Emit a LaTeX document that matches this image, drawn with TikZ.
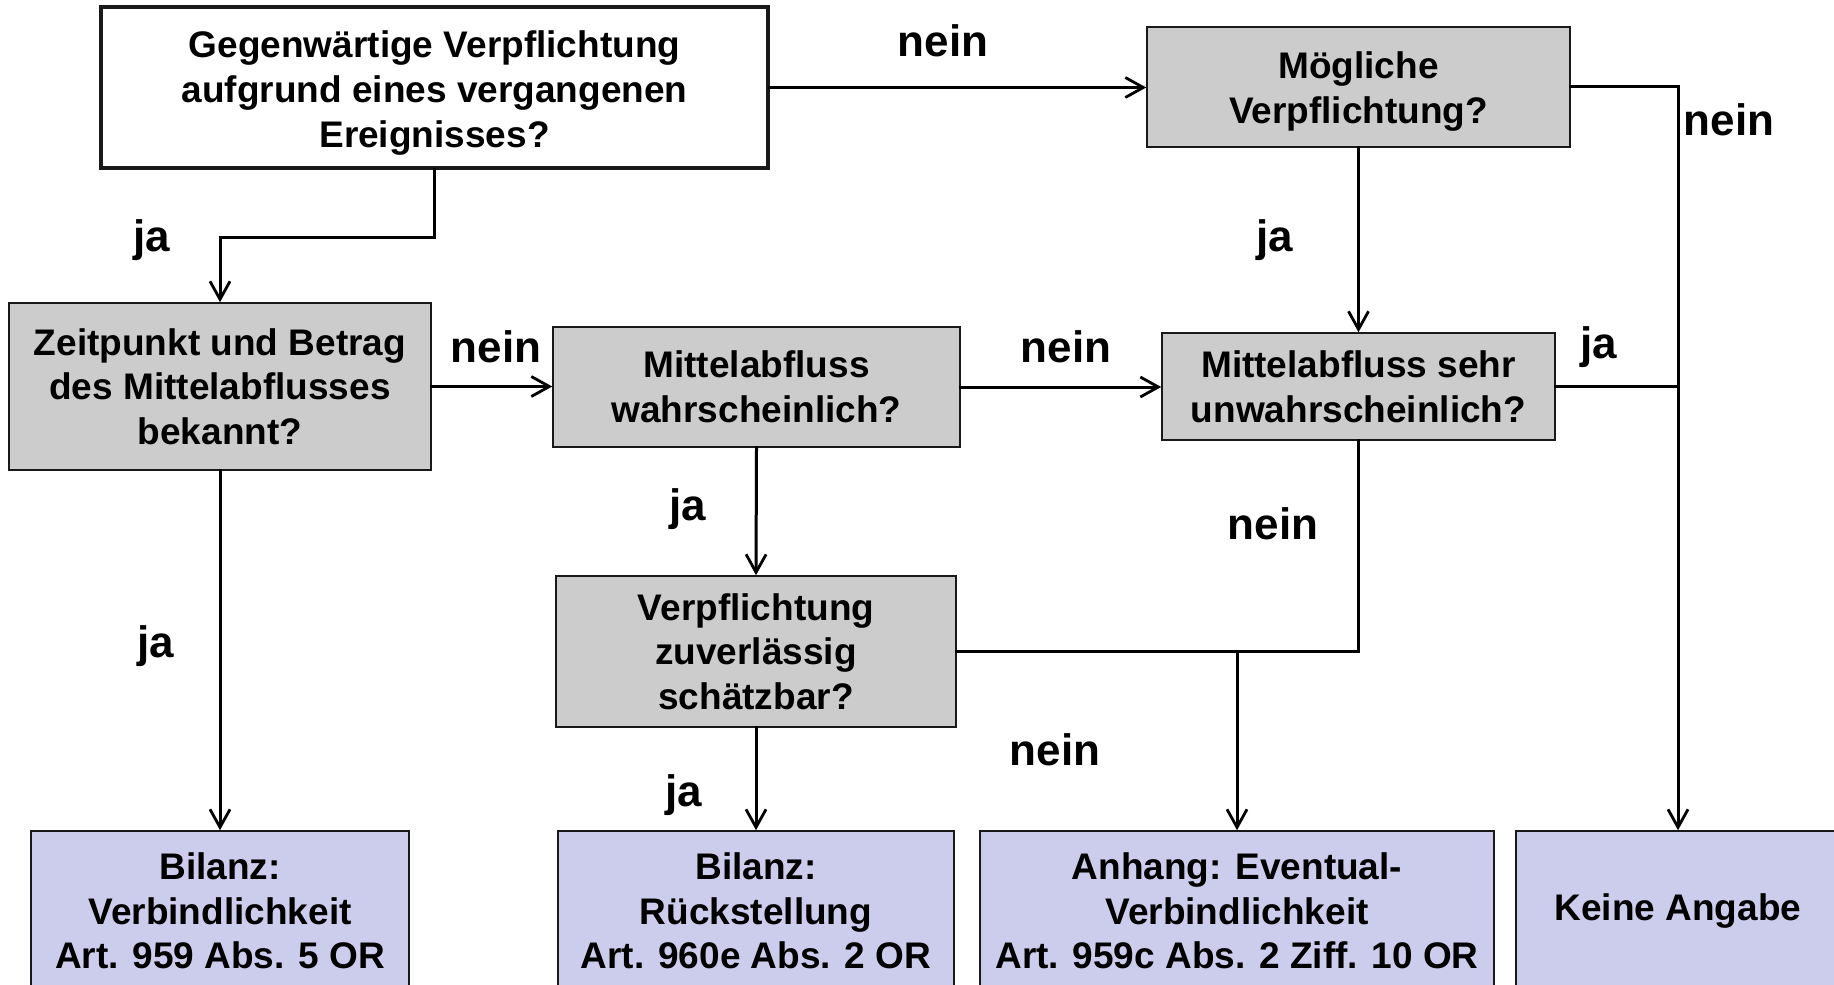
\documentclass[tikz,border=0pt]{standalone}
\usepackage{fontspec}
\setmainfont{Liberation Sans}
\usetikzlibrary{arrows.meta,calc}
\definecolor{qgray}{RGB}{204,204,204}
\definecolor{qblue}{RGB}{204,204,236}
\tikzset{
  box/.style={draw=black!90, line width=0.8pt, inner sep=0pt, align=center,
    font=\bfseries\fontsize{18.5}{22.3}\selectfont},
  qbox/.style={box, fill=qgray},
  rbox/.style={box, fill=qblue, minimum height=80pt},
  lab/.style={font=\bfseries\fontsize{22}{26}\selectfont, inner sep=0pt},
  conn/.style={line width=1.5pt, line cap=rect},
  arr/.style={conn, -{Straight Barb[length=9pt,width=10pt,line width=1.4pt]}}
}
\begin{document}
\begin{tikzpicture}[x=0.5pt,y=-0.5pt]
\useasboundingbox (0,0) rectangle (1834,984);
\clip (0,0) rectangle (1834,984);
\fill[white] (0,0) rectangle (1834,984);

% nodes
\node[box, line width=1.75pt, fill=white, minimum width=333.5pt, minimum height=80.5pt] (top) at (434.5,87.5)
  {\rule{0pt}{19pt}Gegenwärtige Verpflichtung\\aufgrund eines vergangenen\\Ereignisses?};
\node[qbox, minimum width=211.5pt, minimum height=60pt] (moeg) at (1358.5,87)
  {\rule{0pt}{18pt}Mögliche\\Verpflichtung?};
\node[qbox, minimum width=211pt, minimum height=83.5pt] (zeit) at (220,386.5)
  {Zeitpunkt und Betrag\\des Mittelabflusses\\bekannt?};
\node[qbox, minimum width=203.5pt, minimum height=60pt] (mwahr) at (756.5,387)
  {Mittelabfluss\\wahrscheinlich?};
\node[qbox, minimum width=196.5pt, minimum height=53.5pt] (munw) at (1358.5,386.5)
  {Mittelabfluss sehr\\unwahrscheinlich?};
\node[qbox, minimum width=200pt, minimum height=75.5pt] (schaetz) at (756,651.5)
  {Verpflichtung\\zuverlässig\\schätzbar?};
\node[rbox, minimum width=189pt] (bv) at (220,911)
  {Bilanz:\\Verbindlichkeit\\Art. 959 Abs. 5 OR};
\node[rbox, minimum width=198pt] (br) at (756,911)
  {Bilanz:\\Rückstellung\\Art. 960e Abs. 2 OR};
\node[rbox, minimum width=257pt] (an) at (1237,911)
  {Anhang: Eventual-\\Verbindlichkeit\\Art. 959c Abs. 2 Ziff. 10 OR};
\node[rbox, minimum width=162pt] (ka) at (1678,911)
  {Keine Angabe};

\coordinate (c1) at (0,237);

% connectors
\draw[arr] (top.south) -- (top.south |- c1) -- (zeit.north |- c1) -- (zeit.north);
\draw[arr] (top.east) -- (top.east -| moeg.west);
\draw[arr] (moeg.east) -| (ka.north);
\draw[arr] (moeg.south) -- (munw.north);
\draw[conn] (munw.east) -- (munw.east -| ka.north);
\draw[arr] (zeit.east) -- (zeit.east -| mwahr.west);
\draw[arr] (mwahr.east) -- (mwahr.east -| munw.west);
\draw[arr] (zeit.south) -- (bv.north);
\draw[arr] (mwahr.south) -- (schaetz.north);
\draw[arr] (schaetz.south) -- (br.north);
\draw[arr] (schaetz.east) -| (an.north);
\draw[conn] (munw.south) -- (munw.south |- schaetz.east) -- (an.north |- schaetz.east);

% labels
\node[lab] (l1) at (943,41) {nein};
\node[lab] (l2) at (1729,120) {nein};
\node[lab] (l3) at (1275,240) {ja};
\node[lab] (l4) at (1599,347) {ja};
\node[lab] (l5) at (496,347) {nein};
\node[lab] (l6) at (1066,347) {nein};
\node[lab] (l7) at (152,240) {ja};
\node[lab] (l8) at (156,646) {ja};
\node[lab] (l9) at (688,509) {ja};
\node[lab] (l10) at (684,795) {ja};
\node[lab] (l11) at (1055,750) {nein};
\node[lab] (l12) at (1273,524) {nein};
\end{tikzpicture}
\end{document}
